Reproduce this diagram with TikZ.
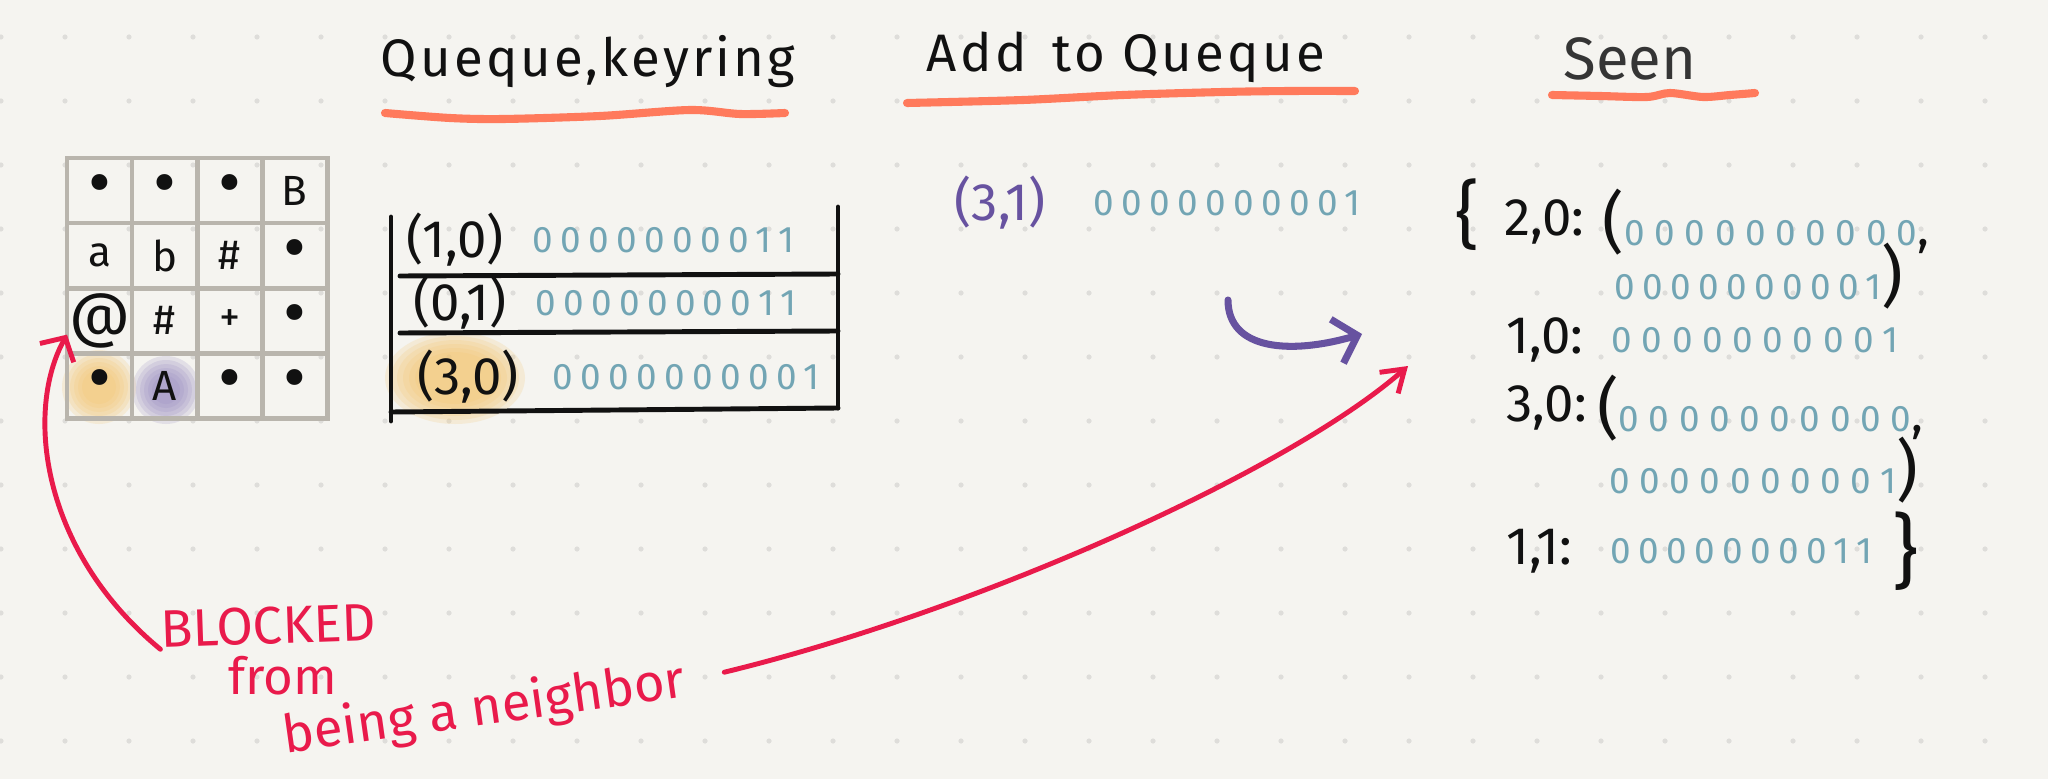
\documentclass[tikz,border=0pt]{standalone}
\usepackage{fontspec}
\setmainfont{Fira Sans}
\newfontfamily\headfont[LetterSpace=6]{Fira Sans}
\newfontfamily\bitfont[LetterSpace=20]{Fira Sans}
\newfontfamily\widebitfont[LetterSpace=26]{Fira Sans}
\usetikzlibrary{positioning, arrows.meta, calc}
\definecolor{paper}{HTML}{F5F4F0}
\definecolor{dotgrey}{HTML}{DEDDDA}
\definecolor{cellgrey}{HTML}{B9B5AD}
\definecolor{ink}{HTML}{111111}
\definecolor{bitteal}{HTML}{72A5B4}
\definecolor{markorange}{HTML}{FF7A5C}
\definecolor{hlorange}{HTML}{F3C56F}
\definecolor{hlpurple}{HTML}{978BC2}
\definecolor{penpurple}{HTML}{6752A0}
\definecolor{penred}{HTML}{E91A4B}
\newcommand{\bk}[1]{{\normalfont\color{ink}\fontsize{19}{19}\selectfont #1}}
\newcommand{\bkc}{{\normalfont\color{ink}\fontsize{14}{14}\selectfont ,}}
\newcommand{\pip}{{\fontsize{20}{20}\selectfont\textbullet}}
\tikzset{%
  cell/.style={draw=cellgrey, line width=1.4pt, minimum size=0.65cm, inner sep=0pt, outer sep=0pt,
    font=\fontsize{12}{12}\selectfont, text=ink}, % one square of the board
  head/.style={font=\headfont\fontsize{15}{15}\selectfont, text=ink, anchor=base},
  key/.style={font=\fontsize{15}{15}\selectfont, text=ink, inner sep=1pt},
  bits/.style={font=\bitfont\fontsize{10.5}{11}\selectfont, text=bitteal, inner sep=1pt},
  widebits/.style={bits, font=\widebitfont\fontsize{10.5}{11}\selectfont},
  note/.style={font=\fontsize{15}{15}\selectfont, text=penred, inner sep=0pt},
  underline/.style={draw=markorange, line width=2.3pt, line cap=round, line join=round},
  rule/.style={draw=ink, line width=1.4pt, line cap=round}
}

\begin{document}
\begin{tikzpicture}[x=0.01cm, y=-0.01cm,
  redpen/.style={draw=penred, line width=1.4pt, line cap=round},
  purplepen/.style={draw=penpurple, line width=2pt, line cap=round}]

\fill[paper] (0,0) rectangle (2048,779);
\useasboundingbox (0,0) rectangle (2048,779);
\foreach \i in {0,...,31}
  \foreach \j in {0,...,11}
    \fill[dotgrey] (1+64*\i, 37+64*\j) circle (2.6);

% soft highlights
\foreach \r in {0,...,5} {
  \fill[hlorange, opacity=.2] (99,387) circle ({37-4*\r});
  \fill[hlpurple, opacity=.2] (166,390) circle ({34-4*\r});
  \fill[hlorange, opacity=.2] (455,378) ellipse ({70-6*\r} and {46-4*\r});
}

% board
\node[cell] (c00) at (99.5,190.5) {\pip};
\node[cell, right=0pt of c00] (c01) {\pip};
\node[cell, right=0pt of c01] (c02) {\pip};
\node[cell, right=0pt of c02] (c03) {B};
\node[cell, below=0pt of c00] (c10) {a};
\node[cell, right=0pt of c10] (c11) {b};
\node[cell, right=0pt of c11] (c12) {\#};
\node[cell, right=0pt of c12] (c13) {\pip};
\node[cell, below=0pt of c10, font=\fontsize{17}{17}\selectfont] (c20) {@};
\node[cell, right=0pt of c20] (c21) {\#};
\node[cell, right=0pt of c21] (c22) {+};
\node[cell, right=0pt of c22] (c23) {\pip};
\node[cell, below=0pt of c20] (c30) {\pip};
\node[cell, right=0pt of c30] (c31) {A};
\node[cell, right=0pt of c31] (c32) {\pip};
\node[cell, right=0pt of c32] (c33) {\pip};

% headings
\node[head] (hqueue) at (588,77) {Queque,keyring};
\node[head] (hadd) at (1126,72) {Add\enspace to Queque};
\node[head, text=ink!85, font=\fontsize{17}{17}\selectfont] (hseen) at (1630,80) {Seen};
\draw[underline] plot[smooth] coordinates {(385,113) (450,118) (503,119) (600,116) (690,110) (740,114) (785,113)};
\draw[underline] plot[smooth] coordinates {(907,103) (1023,100) (1123,95) (1223,92) (1290,91) (1355,91)};
\draw[underline] plot[smooth] coordinates {(1552,95) (1600,96) (1647,97) (1670,93) (1703,97) (1730,95) (1755,93)};

% queue
\draw[rule] (391,217) -- (391,421);
\draw[rule] (838,207) -- (838,408);
\draw[rule] (400,276) -- (838,274);
\draw[rule] (400,333) -- (838,331);
\draw[rule] (391,412) -- (838,408);
\node[key] (k10) at (455,240) {(1,0)};
\node[bits, right=0.2cm of k10] (q10) {0000000011};
\node[key] (k01) at (460,303) {(0,1)};
\node[bits, right=0.2cm of k01] (q01) {0000000011};
\node[key] (k30) at (468,377) {(3,0)};
\node[bits, right=0.25cm of k30] (q30) {0000000001};

% add to queue
\node[key, text=penpurple] (k31) at (1000,203) {(3,1)};
\node[bits, right=0.4cm of k31] (q31) {0000000001};

% seen
\node[key, font=\fontsize{21}{21}\selectfont] (lbrace) at (1467,215) {\{};
\node[key, anchor=west] (s20) at (1500,222) {2,0:};
\node[widebits, right=0.1cm of s20] (v20a) {\bk{(}0000000000\bkc};
\node[bits, anchor=west] (v20b) at (1610,276) {0000000001\bk{)}};
\node[key, anchor=west] (s10) at (1502,340) {1,0:};
\node[widebits, right=0.2cm of s10] (v10) {0000000001};
\node[key, anchor=west] (s30) at (1502,408) {3,0:};
\node[widebits, right=0.02cm of s30] (v30a) {\bk{(}0000000000\bkc};
\node[widebits, anchor=west] (v30b) at (1605,470) {0000000001\bk{)}};
\node[key, anchor=west] (s11) at (1502,551) {1,1:};
\node[bits, right=0.3cm of s11] (v11) {0000000011};
\node[key, font=\fontsize{23}{23}\selectfont, right=0.12cm of v11] (rbrace) {\}};

% notes
\node[note, rotate=2] (blocked) at (268,626) {BLOCKED};
\node[note, font=\fontsize{14.5}{14.5}\selectfont] (from) at (283,676) {from};
\node[note, rotate=8] (neighbor) at (484,710) {being a neighbor};

\coordinate (seenmark) at (1408,366);
\coordinate (addfrom) at (1228,300);
\coordinate (addto) at (1362,334);

\draw[redpen, -{Straight Barb[length=5pt,width=11pt]}] (blocked.south west) .. controls (40,550) and (25,410) .. ([yshift=-4pt]c20.west);
\draw[redpen, -{Straight Barb[length=6pt,width=8pt]}, shorten <=0.4cm] (neighbor.east) .. controls (980,610) and (1290,470) .. (seenmark);
\draw[purplepen, -{Straight Barb[length=6pt,width=13pt]}] (addfrom) .. controls (1228,350) and (1290,355) .. (addto);

\end{tikzpicture}
\end{document}
